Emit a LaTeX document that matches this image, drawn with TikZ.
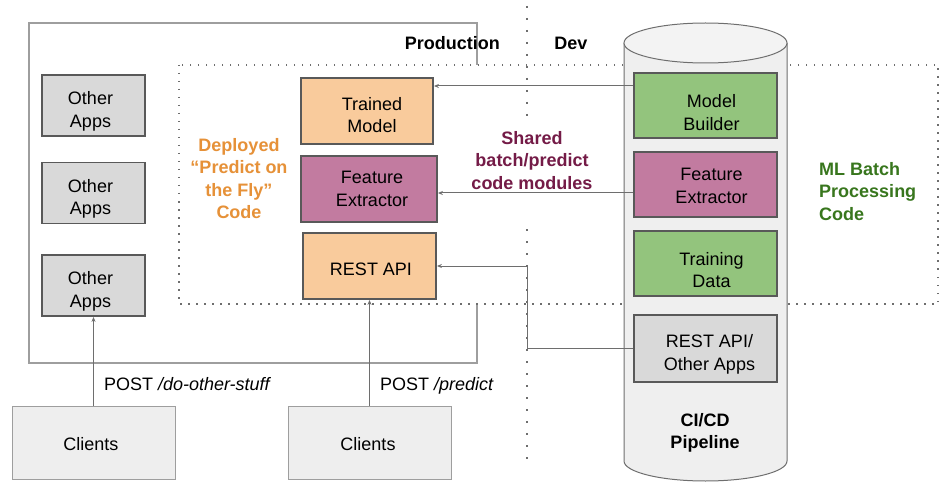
\documentclass[tikz,border=0pt]{standalone}
\usepackage{fontspec}
\setmainfont{Liberation Sans}
\usetikzlibrary{arrows.meta,calc}

\definecolor{peach}{HTML}{F9CB9C}
\definecolor{mauve}{HTML}{C27BA0}
\definecolor{leaf}{HTML}{93C47D}
\definecolor{silver}{HTML}{D9D9D9}
\definecolor{paper}{HTML}{EEEEEE}
\definecolor{drum}{HTML}{EFEFEF}
\definecolor{drumtop}{HTML}{F3F3F3}
\definecolor{edge}{HTML}{595959}
\definecolor{wire}{HTML}{6E6E6E}
\definecolor{frame}{HTML}{9E9E9E}
\definecolor{deployorange}{HTML}{E69138}
\definecolor{sharedmaroon}{HTML}{741B47}
\definecolor{batchgreen}{HTML}{38761D}

\tikzset{
  txt/.style={font=\fontsize{18}{22.5}\selectfont, align=center, inner sep=0pt},
  bold/.style={txt, font=\fontsize{18}{22.5}\selectfont\bfseries},
  % caption placed inside a box, nudged downwards
  boxtext/.style={txt, yshift=-#1},
  boxtext/.default=6pt,
  box/.style={draw=edge, line width=1.8pt, minimum width=#1, minimum height=65pt, inner sep=0pt},
  box/.default=133pt,
  appbox/.style={box=103pt, fill=silver, minimum height=61pt},
  orangebox/.style={box=#1, fill=peach},
  mauvebox/.style={box=#1, fill=mauve},
  greenbox/.style={box=143pt, fill=leaf},
  greybox/.style={box=143pt, fill=silver, minimum height=67pt},
  clientbox/.style={draw=frame, line width=1pt, fill=paper, inner sep=0pt,
    minimum width=163pt, minimum height=73pt},
  arr/.style={draw=wire, line width=1pt, -{Stealth[length=5pt,width=4pt]}},
  finedots/.style={draw=wire, line width=1.5pt, dash pattern=on 1.5pt off 6.5pt},
  bigdots/.style={draw=wire, line width=2.2pt, dash pattern=on 2.2pt off 9.8pt},
}

\begin{document}
\begin{tikzpicture}[x=1pt, y=-1pt]
\useasboundingbox (0,0) rectangle (951,492);

% production environment frame
\draw[frame, line width=1.3pt] (29,23) rectangle (477,363);

% region holding the shared code
\path[fill=white] (179,65) rectangle (938,304);
\draw[finedots] (179,65) rectangle (938,304);

% production / dev divider
\draw[bigdots] (527,6) -- (527,116);
\draw[bigdots] (527,229) -- (527,460);

% CI/CD pipeline drum
\draw[wire, line width=1pt, fill=drum]
  (624,43) -- (624,461) arc[start angle=180, end angle=360, x radius=81.5, y radius=-20]
  -- (787,43);
\draw[wire, line width=1pt, fill=drumtop] (705.5,43) ellipse[x radius=81.5, y radius=20];

% environment labels
\node[bold, anchor=east] (prodlbl) at (500,43) {Production};
\node[bold] (devlbl) at (571,43) {Dev};

% production apps
\node[appbox] (oa1) at (93.5,105.5) {};
\node[boxtext, xshift=-3pt] (oa1t) at (oa1.center) {Other\\Apps};
\node[appbox] (oa2) at (93.5,193) {};
\node[boxtext, xshift=-3pt] (oa2t) at (oa2.center) {Other\\Apps};
\node[appbox] (oa3) at (93.5,285.5) {};
\node[boxtext, xshift=-3pt] (oa3t) at (oa3.center) {Other\\Apps};

\node[orangebox=132pt, minimum height=66pt] (tm) at (367,111) {};
\node[boxtext=4pt, xshift=5pt] (tmt) at (tm.center) {Trained\\Model};
\node[mauvebox=136pt, minimum height=66pt] (fe) at (369,189) {};
\node[boxtext=0pt, xshift=3pt] (fet) at (fe.center) {Feature\\Extractor};
\node[orangebox=133pt, minimum height=66pt] (rest) at (369.5,266) {};
\node[boxtext=3pt, xshift=1.5pt] (restt) at (rest.center) {REST API};

% pipeline stages
\node[greenbox] (mb) at (705.5,105.5) {};
\node[boxtext=7pt, xshift=6pt] (mbt) at (mb.center) {Model\\Builder};
\node[mauvebox=143pt] (fe2) at (705.5,184.5) {};
\node[boxtext=1.5pt, xshift=6pt] (fe2t) at (fe2.center) {Feature\\Extractor};
\node[greenbox] (td) at (705.5,263.5) {};
\node[boxtext=6.5pt, xshift=6pt] (tdt) at (td.center) {Training\\Data};
\node[greybox] (ra) at (705.5,348.5) {};
\node[boxtext=6pt, xshift=4pt] (rat) at (ra.center) {REST API/\\Other Apps};
\node[bold] (cicd) at (705,433) {CI/CD\\Pipeline};

% clients
\node[clientbox] (c1) at (93.5,442.5) {};
\node[boxtext=2pt, xshift=-2.5pt] (c1t) at (c1.center) {Clients};
\node[clientbox] (c2) at (369.5,442.5) {};
\node[boxtext=2pt, xshift=-1.5pt] (c2t) at (c2.center) {Clients};

% descriptive labels
\node[bold, text=deployorange] (deploy) at (239,178.5)
  {Deployed\\“Predict on\\the Fly”\\Code};
\node[bold, text=sharedmaroon] (shared) at (532,160.5)
  {Shared\\batch/predict\\code modules};
\node[bold, text=batchgreen, align=left, anchor=west] (batch) at (819,191.5)
  {ML Batch\\Processing\\Code};

% connectors
\draw[arr] (mb.west |- 0,86) -- (tm.east |- 0,86);
\draw[arr] (fe2.west |- 0,193) -- (fe.east |- 0,193);
\coordinate (jn) at (527,266);
\draw[arr] (ra.west) -| (jn) -- (rest.east);
\draw[arr] (c1.north) -- (oa3.south)
  node[txt, anchor=west, pos=0.24, xshift=10pt] (lbl1) {POST \textit{/do-other-stuff}};
\draw[arr] (c2.north) -- (rest.south)
  node[txt, anchor=west, pos=0.19, xshift=10pt] (lbl2) {POST \textit{/predict}};
\end{tikzpicture}
\end{document}
